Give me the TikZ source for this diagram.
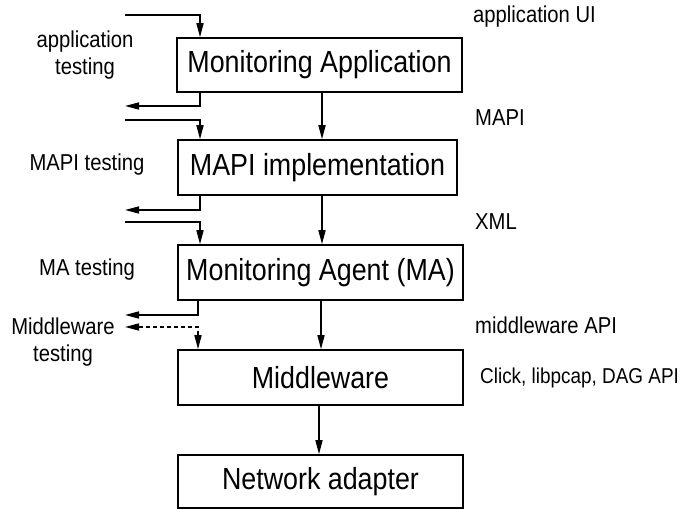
\documentclass[tikz,border=0pt]{standalone}
\usepackage{fontspec}
\setmainfont[FakeStretch=0.88]{Liberation Sans}
\usetikzlibrary{arrows.meta}
\begin{document}
\begin{tikzpicture}[x=1pt,y=-1pt,
  layerbox/.style={draw,line width=1.5pt,inner sep=0pt,font=\fontsize{30.5}{34}\selectfont},
  lbl/.style={inner sep=0pt,font=\fontsize{23}{27}\selectfont,align=center},
  arr/.style={line width=1.5pt,-{Triangle[length=14pt,width=7pt]}},
  dblarr/.style={line width=1.5pt,dash pattern=on 4pt off 3pt,{Triangle[length=14pt,width=7pt]}-{Triangle[length=14pt,width=7pt]}}]
\useasboundingbox (0,0) rectangle (686,510);
% boxes
\node[layerbox,minimum width=285pt,minimum height=54pt] (b1) at (319.5,65) {Monitoring Application};
\node[layerbox,minimum width=279pt,minimum height=55pt] (b2) at (317.5,167.5) {MAPI implementation};
\node[layerbox,minimum width=285pt,minimum height=55pt] (b3) at (320.5,272.5) {Monitoring Agent (MA)};
\node[layerbox,minimum width=285pt,minimum height=55pt] (b4) at (320.5,377.5) {Middleware};
\node[layerbox,minimum width=285pt,minimum height=53pt] (b5) at (320.5,481.5) {Network adapter};
% x positions
\coordinate (ca) at (322,0);
\coordinate (cb) at (321,0);
\coordinate (cc) at (319,0);
\coordinate (L) at (200,0);
\coordinate (L3) at (198,0);
% central arrows
\draw[arr] (b1.south -| ca) -- (b2.north -| ca);
\draw[arr] (b2.south -| ca) -- (b3.north -| ca);
\draw[arr] (b3.south -| cb) -- (b4.north -| cb);
\draw[arr] (b4.south -| cc) -- (b5.north -| cc);
% left connectors
\coordinate (i1) at (125,15);
\coordinate (o1) at (125,106);
\coordinate (i2) at (125,120);
\coordinate (o2) at (125,210);
\coordinate (i3) at (125,222);
\coordinate (o3) at (125,315);
\coordinate (d4) at (125,327);
\draw[arr] (i1) -| (b1.north -| L);
\draw[arr] (b1.south -| L) |- (o1);
\draw[arr] (i2) -| (b2.north -| L);
\draw[arr] (b2.south -| L) |- (o2);
\draw[arr] (i3) -| (b3.north -| L);
\draw[arr] (b3.south -| L3) |- (o3);
\draw[dblarr] (d4) -| (b4.north -| L3);
% left labels
\node[lbl] (t1) at (85,55) {application\\testing};
\node[lbl] (t2) at (87,165) {MAPI testing};
\node[lbl] (t3) at (87,270) {MA testing};
\node[lbl] (t4) at (63,342) {Middleware\\testing};
% right labels
\node[lbl,anchor=west] (r1) at (473,17) {application UI};
\node[lbl,anchor=west] (r2) at (475,118) {MAPI};
\node[lbl,anchor=west] (r3) at (475,222) {XML};
\node[lbl,anchor=west] (r4) at (475,325) {middleware API};
\node[lbl,anchor=west,font=\fontsize{21.5}{25}\selectfont] (r5) at (480,378) {Click, libpcap, DAG API};
\end{tikzpicture}
\end{document}
